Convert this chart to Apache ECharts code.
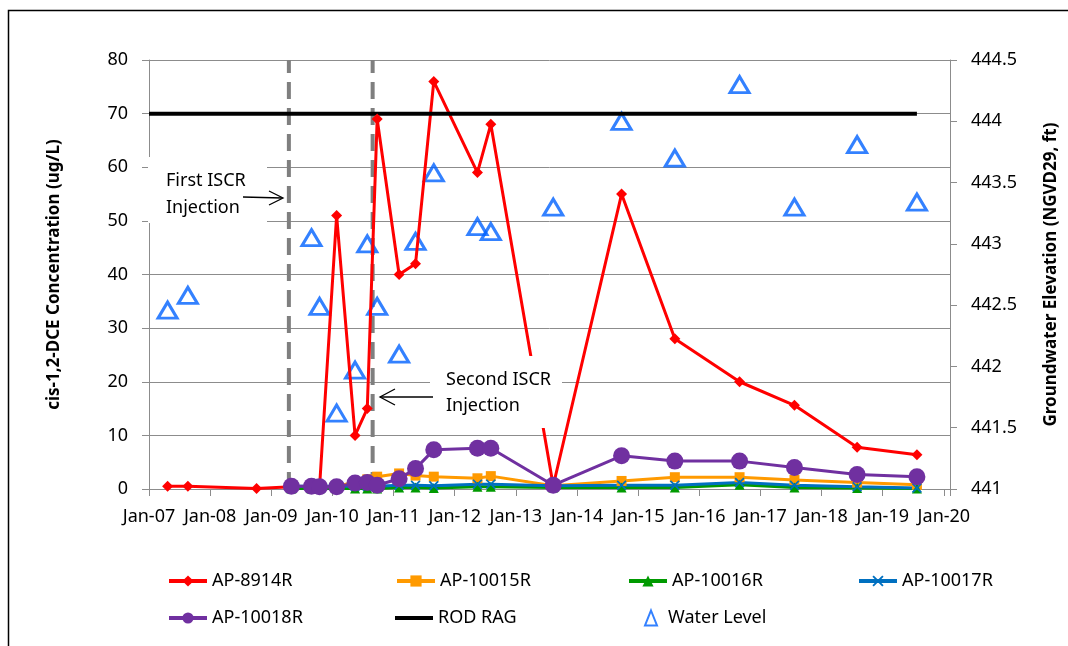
<!DOCTYPE html>
<html>
<head>
<meta charset="utf-8">
<script src="https://cdn.jsdelivr.net/npm/echarts@6/dist/echarts.min.js"></script>
<style>
  html, body { margin: 0; padding: 0; background: #fff; }
  #chart { width: 1068px; height: 646px; }
</style>
</head>
<body>
<div id="chart"></div>
<script>
// sampling dates (shared by all wells)
const sampleDates = [
  '2007-04-22', '2007-08-21', '2008-10-05', '2009-05-01', '2009-08-29', '2009-10-16',
  '2010-01-26', '2010-05-16', '2010-07-28', '2010-09-25', '2011-02-03', '2011-05-12',
  '2011-08-29', '2012-05-16', '2012-08-04', '2013-08-12', '2014-09-24', '2015-08-08',
  '2016-08-29', '2017-07-23', '2018-08-01', '2019-07-24'
];
// cis-1,2-DCE (ug/L)
const ap8914R  = [0.5, 0.5, 0.1, 0.4, 0.3, 0.3, 51, 10, 15, 69, 40, 42, 76, 59, 68, 0.6, 55, 28, 20, 15.6, 7.8, 6.4];
const ap10015R = [null, null, null, 0.3, 0.3, 0.3, 0.4, 1.4, 1.8, 2.3, 2.9, 2.5, 2.3, 2.0, 2.4, 0.6, 1.5, 2.2, 2.2, 1.7, 1.2, 0.8];
const ap10016R = [null, null, null, 0.1, 0.1, 0.1, 0.1, 0.1, 0.1, 0.1, 0.3, 0.3, 0.2, 0.4, 0.4, 0.3, 0.3, 0.3, 0.8, 0.3, 0.2, 0.1];
const ap10017R = [null, null, null, 0.5, 0.5, 0.5, 0.5, 0.5, 0.5, 0.5, 0.7, 0.7, 0.6, 0.9, 0.9, 0.6, 0.7, 0.7, 1.2, 0.7, 0.4, 0.2];
const ap10018R = [null, null, null, 0.5, 0.5, 0.4, 0.4, 1.1, 1.2, 0.7, 1.9, 3.8, 7.3, 7.6, 7.6, 0.7, 6.2, 5.2, 5.2, 4.0, 2.7, 2.3];
// groundwater elevation (ft NGVD29)
const waterLevel = [442.46, 442.58, null, null, 443.05, 442.49, 441.62, 441.97, 443.0, 442.49, 442.10, 443.02,
  443.58, 443.14, 443.10, 443.30, 444.00, 443.70, 444.30, 443.30, 443.81, 443.34];
const rodRag = 70;
const rodRagRange = ['2007-01-01', '2019-07-24'];
const injectionDates = ['2009-04-16', '2010-08-29'];

function toYear(s) {
  const d = new Date(s + 'T00:00:00Z');
  const y = d.getUTCFullYear();
  const a = Date.UTC(y, 0, 1), b = Date.UTC(y + 1, 0, 1);
  return y + (d.getTime() - a) / (b - a);
}
function pairs(vals) {
  let out = [];
  vals.forEach((v, i) => { if (v !== null) out.push([toYear(sampleDates[i]), v]); });
  return out;
}

const FONT = 'Noto Sans';
const GRID_C = '#8c8c8c';

let myChart = echarts.init(document.getElementById('chart'));

function wellSeries(name, vals, color, symbol, size) {
  return {
    name: name, type: 'line', data: pairs(vals),
    symbol: symbol, symbolSize: size,
    itemStyle: { color: color },
    lineStyle: { color: color, width: 3 },
    emphasis: { disabled: true }
  };
}

const xMark = 'path://M0,1.2L1.2,0L5,3.8L8.8,0L10,1.2L6.2,5L10,8.8L8.8,10L5,6.2L1.2,10L0,8.8L3.8,5Z';

const legendItems = [
  { name: 'AP-8914R', left: 162, top: 567 },
  { name: 'AP-10015R', left: 390, top: 567 },
  { name: 'AP-10016R', left: 622, top: 567 },
  { name: 'AP-10017R', left: 852, top: 567 },
  { name: 'AP-10018R', left: 162, top: 604 },
  { name: 'ROD RAG', left: 390, top: 604, icon: 'rect', h: 4 },
  { name: 'Water Level', left: 639, top: 604, w: 12, h: 15, pad: 6 }
];

let option = {
  animation: false,
  textStyle: { fontFamily: FONT },
  grid: { left: 149, right: 118, top: 60, bottom: 157 },
  legend: legendItems.map(l => ({
    data: [l.icon ? { name: l.name, icon: l.icon } : l.name], left: l.left, top: l.top,
    itemWidth: l.w || 38, itemHeight: l.h || 14,
    lineStyle: { width: 4 },
    textStyle: { fontFamily: FONT, fontSize: 18, color: '#000', padding: [0, 0, 0, l.pad || 0] },
    selectedMode: false
  })),
  xAxis: {
    type: 'value', min: 2007, max: 2020.1, interval: 1,
    splitLine: { show: false },
    axisLine: { lineStyle: { color: GRID_C } },
    axisTick: { length: 7, lineStyle: { color: GRID_C } },
    axisLabel: {
      fontSize: 18, color: '#000', margin: 19,
      formatter: v => Number.isInteger(v) ? 'Jan-' + String(v % 100).padStart(2, '0') : ''
    }
  },
  yAxis: [
    {
      type: 'value', min: 0, max: 80, interval: 10,
      name: 'cis-1,2-DCE Concentration (ug/L)', nameLocation: 'middle', nameGap: 86,
      nameTextStyle: { fontSize: 17, fontWeight: 'bold', color: '#000', fontFamily: FONT },
      splitLine: { lineStyle: { color: GRID_C } },
      axisLine: { show: true, lineStyle: { color: GRID_C } },
      axisTick: { show: true, length: 7, lineStyle: { color: GRID_C } },
      axisLabel: { fontSize: 18, color: '#000', margin: 21 }
    },
    {
      type: 'value', min: 441, max: 444.5, interval: 0.5, position: 'right',
      name: 'Groundwater Elevation (NGVD29, ft)', nameLocation: 'middle', nameGap: 93,
      nameRotate: 90,
      nameTextStyle: { fontSize: 17, fontWeight: 'bold', color: '#000', fontFamily: FONT },
      splitLine: { show: false },
      axisLine: { show: true, lineStyle: { color: GRID_C } },
      axisTick: { show: true, length: 7, lineStyle: { color: GRID_C } },
      axisLabel: { fontSize: 18, color: '#000', margin: 21 }
    }
  ],
  series: [
    ...injectionDates.map(d => ({
      type: 'line', silent: true, symbol: 'none', z: 1,
      data: [[toYear(d), 0], [toYear(d), 80]],
      lineStyle: { color: '#7f7f7f', width: 4, type: [17, 9] }
    })),
    wellSeries('AP-8914R', ap8914R, '#ff0000', 'diamond', 11),
    wellSeries('AP-10015R', ap10015R, '#ff9a00', 'rect', 10),
    wellSeries('AP-10016R', ap10016R, '#009a00', 'triangle', 10),
    wellSeries('AP-10017R', ap10017R, '#0070c0', xMark, 10),
    wellSeries('AP-10018R', ap10018R, '#7030a0', 'circle', 17),
    {
      name: 'ROD RAG', type: 'line', symbol: 'none',
      data: rodRagRange.map(d => [toYear(d), rodRag]),
      itemStyle: { color: '#000' },
      lineStyle: { color: '#000', width: 4 }
    },
    {
      name: 'Water Level', type: 'scatter', yAxisIndex: 1,
      data: pairs(waterLevel),
      symbol: 'triangle', symbolSize: [19, 16],
      itemStyle: { color: 'rgba(255,255,255,0)', borderColor: '#0062ff', borderWidth: 3 }
    }
  ],
  graphic: [
    { type: 'rect', z: 0, silent: true, shape: { x: 8.5, y: 10.5, width: 1100, height: 700 },
      style: { fill: null, stroke: '#000', lineWidth: 1.5 } },
    { type: 'rect', z: 100, shape: { x: 148, y: 157, width: 119, height: 66 }, style: { fill: '#fff' } },
    { type: 'text', z: 101, left: 166, top: 167,
      style: { text: 'First ISCR\nInjection', font: '18px "Noto Sans"', fill: '#000', lineHeight: 27 } },
    { type: 'polyline', z: 101, shape: { points: [[243, 197], [282, 198]] }, style: { stroke: '#000', lineWidth: 1.3 } },
    { type: 'polyline', z: 101, shape: { points: [[269, 191], [283, 198], [269, 205]] }, style: { stroke: '#000', fill: null, lineWidth: 1.3 } },
    { type: 'rect', z: 100, shape: { x: 430, y: 356, width: 132, height: 72 }, style: { fill: '#fff' } },
    { type: 'text', z: 101, left: 446, top: 367,
      style: { text: 'Second ISCR\nInjection', font: '18px "Noto Sans"', fill: '#000', lineHeight: 26 } },
    { type: 'polyline', z: 101, shape: { points: [[433, 397], [380, 397]] }, style: { stroke: '#000', lineWidth: 1.3 } },
    { type: 'polyline', z: 101, shape: { points: [[395, 389], [380, 397], [395, 405]] }, style: { stroke: '#000', fill: null, lineWidth: 1.3 } }
  ]
};

option && myChart.setOption(option);
</script>
</body>
</html>
